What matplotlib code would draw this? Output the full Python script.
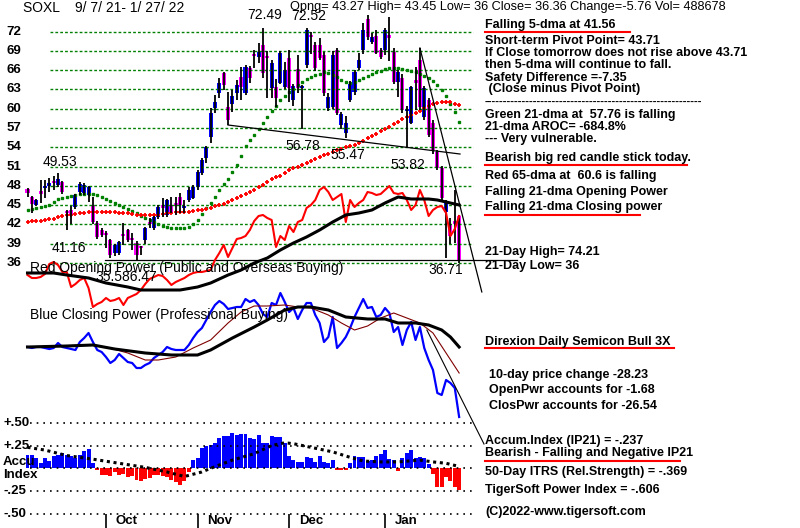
import matplotlib
matplotlib.use("Agg")
import matplotlib.pyplot as plt

plt.rcParams['font.family'] = ['Liberation Sans', 'DejaVu Sans']

# ---------------- data ----------------
opens = [47.5, 46.3, 45.0, 47.0, 47.6, 48.0, 48.5, 48.2, 48.6, 43.9,
         44.2, 44.7, 47.0, 46.9, 46.6, 45.0, 42.2, 41.1, 40.7, 39.6,
         37.6, 37.6, 40.5, 41.1, 39.8, 39.1, 38.6, 39.6, 42.4, 41.4,
         43.1, 45.0, 43.5, 45.0, 45.3, 46.3, 44.5, 45.8, 46.1, 47.8,
         50.0, 52.3, 55.6, 60.1, 62.4, 65.5, 60.3, 60.7, 62.4, 64.9,
         62.4, 66.3, 68.4, 68.0, 69.9, 68.2, 63.2, 63.4, 64.0, 63.4,
         67.9, 61.4, 66.2, 63.2, 66.8, 71.4, 69.9, 69.9, 68.4, 60.1,
         60.3, 69.1, 57.5, 56.2, 61.4, 62.6, 66.3, 69.1, 74.0, 70.4,
         71.3, 69.1, 69.1, 71.5, 68.8, 64.1, 64.7, 59.6, 57.8, 64.5,
         67.6, 58.7, 61.4, 57.8, 53.3, 50.8, 43.9, 42.0, 42.3, 43.27]
highs = [47.7, 46.4, 45.9, 48.9, 48.9, 49.2, 49.5, 50.0, 48.8, 44.3,
         44.8, 46.8, 48.6, 48.5, 47.9, 46.2, 42.5, 41.5, 40.9, 39.8,
         38.9, 39.4, 42.2, 41.3, 40.6, 39.4, 38.7, 41.6, 43.0, 43.3,
         45.0, 46.1, 46.0, 46.3, 46.2, 46.9, 45.8, 47.8, 48.1, 50.5,
         52.3, 54.2, 60.1, 62.1, 64.8, 65.7, 62.6, 62.9, 64.5, 66.5,
         66.8, 66.6, 69.1, 70.2, 72.49, 69.0, 67.6, 64.6, 69.0, 67.3,
         69.1, 63.8, 68.3, 63.7, 72.52, 72.0, 70.4, 71.0, 68.8, 62.4,
         69.0, 69.4, 59.5, 58.9, 64.3, 66.0, 68.6, 73.3, 74.6, 71.7,
         72.2, 69.4, 72.5, 74.21, 69.4, 66.0, 65.4, 60.4, 63.6, 66.5,
         69.4, 63.5, 61.7, 58.2, 53.6, 51.1, 45.8, 43.0, 47.3, 43.45]
lows = [46.2, 43.8, 44.9, 45.3, 46.1, 47.0, 47.3, 47.8, 46.7, 41.16,
        42.1, 44.4, 46.6, 46.5, 45.5, 42.0, 39.8, 40.1, 38.4, 36.8,
        37.1, 37.3, 38.8, 39.3, 38.0, 36.5, 37.3, 39.0, 41.4, 41.2,
        42.9, 43.2, 43.2, 43.7, 43.5, 43.8, 43.8, 45.5, 45.9, 47.3,
        49.7, 51.6, 54.7, 59.3, 61.7, 62.9, 57.5, 59.5, 61.4, 61.4,
        62.1, 64.0, 66.3, 67.1, 64.8, 61.7, 61.7, 60.3, 63.8, 63.1,
        61.1, 60.4, 62.4, 56.78, 66.4, 68.5, 65.9, 67.5, 62.0, 59.6,
        60.0, 59.0, 56.8, 55.47, 61.0, 62.2, 66.0, 68.5, 70.7, 70.0,
        68.5, 67.7, 68.4, 67.4, 63.8, 61.8, 59.3, 53.82, 57.6, 59.8,
        59.8, 58.2, 55.6, 53.0, 50.5, 45.8, 36.71, 39.0, 39.1, 36.0]
closes = [46.9, 45.2, 45.8, 46.8, 47.9, 48.5, 48.4, 49.1, 47.0, 43.7,
          43.5, 46.6, 48.3, 48.1, 47.8, 42.4, 40.0, 40.4, 40.3, 37.3,
          38.8, 39.3, 40.2, 39.6, 39.5, 37.3, 38.3, 41.4, 42.1, 43.1,
          44.7, 44.6, 45.8, 43.9, 44.8, 45.0, 44.8, 47.4, 47.8, 50.2,
          52.0, 54.0, 59.3, 61.0, 64.0, 63.7, 58.2, 62.0, 63.7, 63.4,
          66.5, 64.8, 68.2, 68.8, 65.5, 67.9, 67.1, 61.7, 68.7, 66.0,
          63.2, 63.5, 63.2, 63.5, 72.2, 71.1, 66.3, 67.9, 62.4, 61.8,
          68.4, 59.3, 59.2, 57.8, 63.9, 65.7, 67.6, 72.2, 71.1, 71.1,
          68.7, 68.0, 72.2, 71.0, 64.1, 65.7, 59.8, 60.0, 63.4, 64.0,
          60.3, 63.2, 55.9, 53.6, 50.8, 46.1, 45.3, 40.2, 42.12, 36.36]

ma21 = [44.2, 44.4, 44.6, 44.7, 44.9, 45.0, 45.5, 46.0, 46.1, 46.3,
        46.4, 46.6, 46.7, 46.7, 46.7, 46.7, 46.6, 46.3, 46.0, 45.6,
        45.3, 45.0, 44.7, 44.4, 44.1, 43.8, 43.3, 43.0, 42.7, 42.4,
        42.1, 41.8, 41.6, 41.4, 41.4, 41.4, 41.4, 41.6, 42.1, 42.7,
        43.6, 44.6, 45.3, 46.3, 47.4, 48.3, 49.1, 50.2, 51.2, 52.6,
        54.2, 55.1, 55.9, 56.8, 57.8, 58.7, 59.6, 60.4, 61.3, 62.0,
        62.6, 63.1, 63.7, 64.1, 64.6, 64.9, 65.2, 65.4, 65.7, 65.5,
        65.2, 64.9, 64.5, 64.1, 64.0, 64.1, 64.5, 64.8, 65.1, 65.4,
        65.7, 65.9, 66.2, 66.3, 66.3, 66.3, 66.2, 66.0, 65.9, 65.7,
        65.4, 65.1, 64.8, 64.3, 63.7, 62.9, 62.0, 60.7, 59.5, 57.9]
ma65 = [42.4, 42.5, 42.5, 42.6, 42.7, 42.8, 42.9, 43.1, 43.3, 43.4,
        43.5, 43.6, 43.7, 43.8, 43.9, 43.9, 43.9, 43.9, 43.9, 43.9,
        43.9, 43.8, 43.8, 43.7, 43.6, 43.5, 43.5, 43.4, 43.4, 43.4,
        43.5, 43.6, 43.7, 43.8, 43.9, 43.9, 43.9, 44.0, 44.1, 44.2,
        44.2, 44.4, 44.6, 44.8, 45.0, 45.2, 45.5, 45.8, 46.1, 46.4,
        46.7, 47.0, 47.4, 47.8, 48.2, 48.6, 49.0, 49.3, 49.6, 50.0,
        50.4, 50.7, 51.0, 51.3, 51.6, 51.9, 52.2, 52.5, 52.8, 53.0,
        53.3, 53.5, 53.8, 54.0, 54.2, 54.4, 54.7, 55.0, 55.4, 55.8,
        56.1, 56.5, 56.8, 57.2, 57.6, 58.0, 58.4, 58.7, 59.0, 59.4,
        59.7, 60.1, 60.4, 60.7, 60.9, 61.0, 61.0, 61.0, 60.8, 60.6]

# Opening Power (arbitrary units) and its moving average
open_power = [15, 12, 12, 13, 16, 26, 28, 25, 18, 18,
              3, 6, 10, 12, 2, -17, -14, -12, -8, -11,
              -10, -8, -15, -8, -6, -4, 0, 6, 11, 13,
              15, 14, 10, 5, 8, 10, 12, 15, 17, 18,
              18, 19, 20, 30, 37, 45, 33, 42, 51, 52,
              54, 60, 69, 74, 75, 72, 70, 43, 54, 50,
              64, 58, 68, 70, 82, 85, 90, 100, 103, 98,
              90, 93, 96, 68, 90, 83, 87, 90, 98, 97,
              95, 96, 100, 104, 97, 96, 97, 90, 80, 85,
              100, 90, 74, 80, 83, 84, 77, 54, 61, 74]
op_ma_days = [0, 6, 9, 14, 18, 23, 26, 30, 35, 39, 42, 46, 49, 52, 55,
              58, 61, 64, 67, 70, 73, 76, 79, 82, 85, 88, 92, 94, 96, 99]
op_ma = [17, 17, 15, 12, 7, 3, 0, 0, 0, 3, 7, 15, 20, 27, 32,
         40, 47, 53, 60, 68, 75, 77, 80, 87, 93, 91, 91, 90, 88, 85]

# Closing Power (arbitrary units) and its two averages
close_power = [73, 72, 73, 73, 72, 71, 72, 77, 73, 72,
               71, 70, 78, 82, 87, 78, 70, 68, 63, 57,
               60, 66, 62, 58, 57, 52, 52, 55, 57, 62,
               65, 68, 73, 71, 70, 70, 70, 75, 82, 88,
               92, 100, 108, 115, 119, 116, 111, 112, 113, 113,
               121, 118, 120, 115, 106, 103, 117, 115, 127, 118,
               108, 112, 101, 110, 117, 117, 105, 97, 78, 83,
               103, 72, 77, 83, 92, 103, 112, 121, 112, 113,
               103, 105, 112, 107, 88, 93, 75, 90, 98, 80,
               93, 72, 60, 50, 27, 25, 40, 37, 32, 3]
cp_fast_days = [0, 7, 14, 18, 23, 27, 30, 34, 38, 42, 46, 49, 52, 55,
                59, 62, 65, 69, 72, 75, 78, 81, 84, 87, 90, 93, 96, 99]
cp_fast = [73, 74, 75, 73, 67, 60, 60, 63, 72, 80, 97, 108, 114, 114,
           115, 113, 112, 105, 97, 90, 94, 102, 107, 102, 97, 87, 67, 47]
cp_slow_days = [0, 9, 15, 20, 27, 33, 39, 42, 47, 52, 55, 59, 62, 65,
                69, 73, 78, 82, 85, 89, 92, 95, 97, 99]
cp_slow = [73, 74, 75, 71, 67, 65, 65, 70, 82, 93, 100, 110, 113, 113,
           110, 103, 101, 101, 97, 97, 95, 90, 83, 73]

# Accumulation Index (IP21)
accum = [0.15, 0.15, 0.11, 0.06, 0.11, 0.08, 0.13, 0.15, 0.17, 0.15,
         0.13, 0.11, 0.15, 0.19, 0.21, 0.06, -0.02, -0.07, -0.07, -0.08,
         -0.04, -0.07, -0.06, -0.09, -0.08, -0.13, -0.14, -0.12, -0.11, -0.07,
         -0.07, -0.08, -0.09, -0.13, -0.15, -0.18, -0.14, -0.04, 0.09, 0.11,
         0.22, 0.24, 0.26, 0.28, 0.33, 0.35, 0.35, 0.39, 0.37, 0.375,
         0.375, 0.33, 0.32, 0.37, 0.28, 0.28, 0.35, 0.34, 0.34, 0.28,
         0.13, 0.09, 0.07, 0.07, 0.12, 0.11, 0.07, 0.13, 0.07, 0.055,
         0.09, -0.02, -0.02, -0.02, 0.056, 0.13, 0.12, 0.12, 0.075, 0.086,
         0.14, 0.16, 0.205, 0.10, 0.086, -0.026, 0.11, 0.168, 0.205, 0.11,
         0.12, 0.11, 0.05, -0.063, -0.205, -0.20, -0.10, -0.138, -0.205, -0.237]
acc_ma_days = [0, 4, 9, 15, 21, 27, 32, 36, 40, 42, 47, 52, 56, 59, 61,
               65, 70, 74, 77, 81, 85, 90, 93, 96, 99]
acc_ma = [0.23, 0.20, 0.14, 0.10, 0.055, 0.01, -0.04, -0.09, -0.04, 0.0,
          0.09, 0.16, 0.25, 0.28, 0.27, 0.23, 0.18, 0.12, 0.08, 0.07,
          0.07, 0.09, 0.07, 0.055, 0.02]

price_levels = [36, 39, 42, 45, 48, 51, 54, 57, 60, 63, 66, 69, 72]
acc_levels = [0.5, 0.25, 0.0, -0.25, -0.5]
acc_labels = ['+.50', '+.25', '', '-.25', '-.50']
month_names = ['Oct', 'Nov', 'Dec', 'Jan']
month_days = [18, 39, 60, 82]

# trend lines (day, value)
support_days, support_px = [46.0, 99.2], [57.46, 52.95]
down_days, down_px = [90.0, 104.2], [69.44, 31.5]
low_days, low_px = [17.8, 112.3], [36.47, 36.47]
cp_trend_days, cp_trend = [91.6, 104.7], [90, -24]

days = list(range(len(closes)))

# ---------------- figure ----------------
fig = plt.figure(figsize=(8, 5.28), dpi=100)
fig.patch.set_facecolor('white')
XL = (-27.5 / 4.36, (800 - 27.5) / 4.36)


def layer(ylim):
    ax = fig.add_axes([0, 0, 1, 1], facecolor='none')
    ax.set_xlim(*XL)
    ax.set_ylim(*ylim)
    ax.axis('off')
    return ax


ax_p = layer((-5.21, 76.90))
ax_op = layer((-238, 290))
ax_cp = layer((-108, 420))
ax_acc = layer((-0.6546, 5.135))
ax_t = fig.add_axes([0, 0, 1, 1], facecolor='none')
ax_t.set_xlim(0, 800)
ax_t.set_ylim(528, 0)
ax_t.axis('off')

# price grid
ax_p.hlines(price_levels, 5.16, 102.2, colors='#008000', lw=1,
            linestyles=(0, (2, 1.5)))
for lv in price_levels:
    ax_p.text(0.008, lv, str(lv), transform=ax_p.get_yaxis_transform(),
              ha='left', va='center', fontsize=9.5, fontweight='bold')

# moving averages
ax_p.plot(days, ma21, ls='none', marker='s', ms=1.6, color='#008000')
ax_p.plot(days, ma65, ls='none', marker='+', ms=3.4, mew=1.3, color='#ff0000')

# candles
ax_p.vlines(days, lows, highs, colors='black', lw=1.3)
bottoms = [min(o, c) for o, c in zip(opens, closes)]
heights = [max(abs(c - o), 0.35) for o, c in zip(opens, closes)]
cols = ['#0000ff' if c >= o else '#ff00ff' for o, c in zip(opens, closes)]
ax_p.bar(days, heights, bottom=bottoms, width=0.92, color=cols, linewidth=0)

# trend lines
ax_p.plot(support_days, support_px, color='black', lw=0.9)
ax_p.plot(down_days, down_px, color='black', lw=0.9)
ax_p.plot(low_days, low_px, color='black', lw=0.9)

# opening power
ax_op.plot(days, open_power, color='#ff0000', lw=1.5)
ax_op.plot(op_ma_days, op_ma, color='black', lw=2.2)

# closing power
ax_cp.plot(days, close_power, color='#0000ff', lw=1.6)
ax_cp.plot(cp_fast_days, cp_fast, color='#800000', lw=0.8)
ax_cp.plot(cp_slow_days, cp_slow, color='black', lw=2.2)
ax_cp.plot(cp_trend_days, cp_trend, color='black', lw=0.8)

# accumulation index
ax_acc.hlines(acc_levels, 0.5, 102.0, colors='black', lw=1.2,
              linestyles=(0, (1, 3)))
acols = ['#0000ff' if v >= 0 else '#ff0000' for v in accum]
ax_acc.bar(days, accum, width=0.9, color=acols, linewidth=0)
ax_acc.plot(acc_ma_days, acc_ma, color='black', lw=2.2, ls=(0, (1, 1.2)))
ax_acc.vlines(month_days, -0.66, -0.505, colors='black', lw=1.2)
for m, d in zip(month_names, month_days):
    ax_acc.text(d + 2.2, -0.575, m, ha='left', va='center',
                fontsize=9.5, fontweight='bold')
for lv, lb in zip(acc_levels, acc_labels):
    if lb:
        ax_acc.text(0.004, lv, lb, transform=ax_acc.get_yaxis_transform(),
                    ha='left', va='center', fontsize=9.5, fontweight='bold')

# ---------------- text ----------------
def t(x, y, s, **kw):
    kw.setdefault('fontsize', 9.0)
    kw.setdefault('fontweight', 'bold')
    ax_t.text(x, y, s, ha='left', va='center', **kw)


t(23, 8, 'SOXL    9/ 7/ 21- 1/ 27/ 22', fontsize=10, fontweight='normal')
t(290, 7, 'Opng= 43.27 High= 43.45 Low= 36 Close= 36.36 Change=-5.76 Vol= 488678',
  fontsize=9.2, fontweight='normal')
for x, y, s in [(247, 15, '72.49'), (291, 16, '72.52'), (43, 162, '49.53'),
                (52, 248, '41.16'), (285, 146, '56.78'), (330, 155, '55.47'),
                (390, 165, '53.82'), (428, 270, '36.71'), (95, 277, '35.586.47')]:
    t(x, y, s, fontsize=10, fontweight='normal')
t(30, 268, 'Red Opening Power (Public and Overseas Buying)', fontsize=10,
  fontweight='normal')
t(30, 315, 'Blue Closing Power (Professional Buying)', fontsize=10,
  fontweight='normal')
t(3, 462, 'Accu', fontsize=9.5)
t(3, 475, 'Index', fontsize=9.5)

right = [
    (485, 25, 'Falling 5-dma at 41.56'),
    (485, 41, 'Short-term Pivot Point= 43.71'),
    (485, 53, 'If Close tomorrow does not rise above 43.71'),
    (485, 65, 'then 5-dma will continue to fall.'),
    (485, 78, 'Safety Difference =-7.35'),
    (485, 89, ' (Close minus Pivot Point)'),
    (485, 115, 'Green 21-dma at  57.76 is falling'),
    (485, 127, '21-dma AROC= -684.8%'),
    (485, 139, '--- Very vulnerable.'),
    (485, 158, 'Bearish big red candle stick today.'),
    (485, 176, 'Red 65-dma at  60.6 is falling'),
    (485, 192, 'Falling 21-dma Opening Power'),
    (485, 207, 'Falling 21-dma Closing power'),
    (485, 252, '21-Day High= 74.21'),
    (485, 266, '21-Day Low= 36'),
    (485, 342, 'Direxion Daily Semicon Bull 3X'),
    (489, 375, '10-day price change -28.23'),
    (489, 390, 'OpenPwr accounts for -1.68'),
    (489, 406, 'ClosPwr accounts for -26.54'),
    (485, 441, 'Accum.Index (IP21) = -.237'),
    (485, 453, 'Bearish - Falling and Negative IP21'),
    (485, 472, '50-Day ITRS (Rel.Strength) = -.369'),
    (485, 490, 'TigerSoft Power Index = -.606'),
    (485, 512, '(C)2022-www.tigersoft.com'),
]
for x, y, s in right:
    t(x, y, s)
t(485, 102, '-' * 58, fontsize=8)

for x0, x1, y in [(485, 630, 32), (485, 687, 165), (485, 640, 215),
                  (485, 674, 348), (485, 680, 461)]:
    ax_t.plot([x0, x1], [y, y], color='#ff0000', lw=1.5)

fig.savefig('out.png', dpi=100)
